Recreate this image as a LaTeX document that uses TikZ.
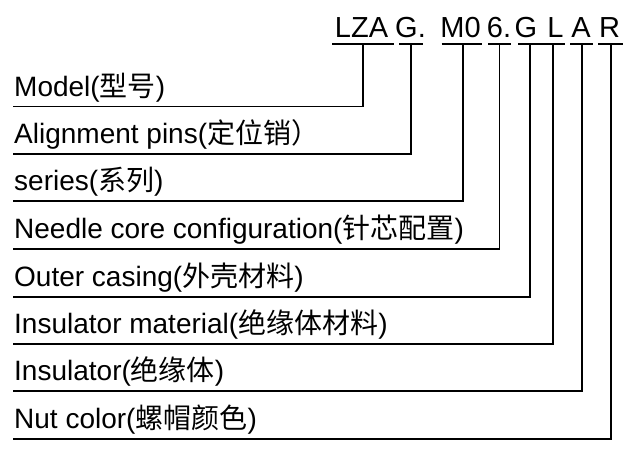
\documentclass[tikz,border=0pt]{standalone}
\usepackage{fontspec}
\setmainfont{Liberation Sans}
\newfontfamily\cjk{Noto Sans CJK SC}
\begin{document}
\begin{tikzpicture}[x=1pt,y=-1pt,
  codetext/.style={font=\fontsize{29}{32}\selectfont, anchor=base, inner sep=0pt},
  labeltext/.style={font=\fontsize{28}{31}\selectfont, anchor=base west, inner sep=0pt},
  rule/.style={line width=1.8pt, black}]
\useasboundingbox (0,0) rectangle (635,450);
% code pieces
\node[codetext] (cLZA) at (361.5,37.3) {LZA};
\node[codetext] (cG)   at (410.5,37.3) {G.};
\node[codetext] (cM)   at (460.5,37.3) {M0};
\node[codetext] (c6)   at (499,37.3) {6.};
\node[codetext] (cG2)  at (526,37.3) {G};
\node[codetext] (cL)   at (555.5,37.3) {L};
\node[codetext] (cA)   at (581,37.3) {A};
\node[codetext] (cR)   at (609.5,37.3) {R};
% labels
\node[labeltext] (lModel) at (14,96) {Model({\cjk 型号})};
\node[labeltext] (lPins)  at (14,143.5) {Alignment pins({\cjk 定位销）}};
\node[labeltext] (lSer)   at (14,190.5) {series({\cjk 系列})};
\node[labeltext] (lNeed)  at (14,238.5) {Needle core configuration({\cjk 针芯配置})};
\node[labeltext] (lOut)   at (14,286.5) {Outer casing({\cjk 外壳材料})};
\node[labeltext] (lInsM)  at (14,333.5) {Insulator material({\cjk 绝缘体材料})};
\node[labeltext] (lIns)   at (14,380.5) {Insulator({\cjk 绝缘体})};
\node[labeltext] (lNut)   at (14,428.5) {Nut color({\cjk 螺帽颜色})};
% underline ends and taps
\coordinate (uLZAa) at (332,44); \coordinate (uLZAb) at (394,44); \coordinate (tLZA) at (363,44);
\coordinate (uGa) at (399,44);   \coordinate (uGb) at (423,44);   \coordinate (tG) at (411,44);
\coordinate (uMa) at (441.5,44); \coordinate (uMb) at (482,44);   \coordinate (tM) at (463,44);
\coordinate (u6a) at (488,44);   \coordinate (u6b) at (510.5,44); \coordinate (t6) at (499.5,44);
\coordinate (uGLa) at (518,44);  \coordinate (uGLb) at (565,44);  \coordinate (tG2) at (530,44); \coordinate (tL) at (553,44);
\coordinate (uAa) at (570,44);   \coordinate (uAb) at (593,44);   \coordinate (tA) at (582,44);
\coordinate (uRa) at (598,44);   \coordinate (uRb) at (623,44);   \coordinate (tR) at (611,44);
% label line starts
\coordinate (sModel) at (13,106.5);
\coordinate (sPins)  at (13,154);
\coordinate (sSer)   at (13,201);
\coordinate (sNeed)  at (13,249);
\coordinate (sOut)   at (13,297);
\coordinate (sInsM)  at (13,344);
\coordinate (sIns)   at (13,391);
\coordinate (sNut)   at (13,439);
% underlines
\draw[rule] (uLZAa) -- (uLZAb);
\draw[rule] (uGa) -- (uGb);
\draw[rule] (uMa) -- (uMb);
\draw[rule] (u6a) -- (u6b);
\draw[rule] (uGLa) -- (uGLb);
\draw[rule] (uAa) -- (uAb);
\draw[rule] (uRa) -- (uRb);
% connectors
\draw[rule] (tLZA) |- (sModel);
\draw[rule] (tG) |- (sPins);
\draw[rule] (tM) |- (sSer);
\draw[rule] (t6) |- (sNeed);
\draw[rule] (tG2) |- (sOut);
\draw[rule] (tL) |- (sInsM);
\draw[rule] (tA) |- (sIns);
\draw[rule] (tR) |- (sNut);
\end{tikzpicture}
\end{document}
